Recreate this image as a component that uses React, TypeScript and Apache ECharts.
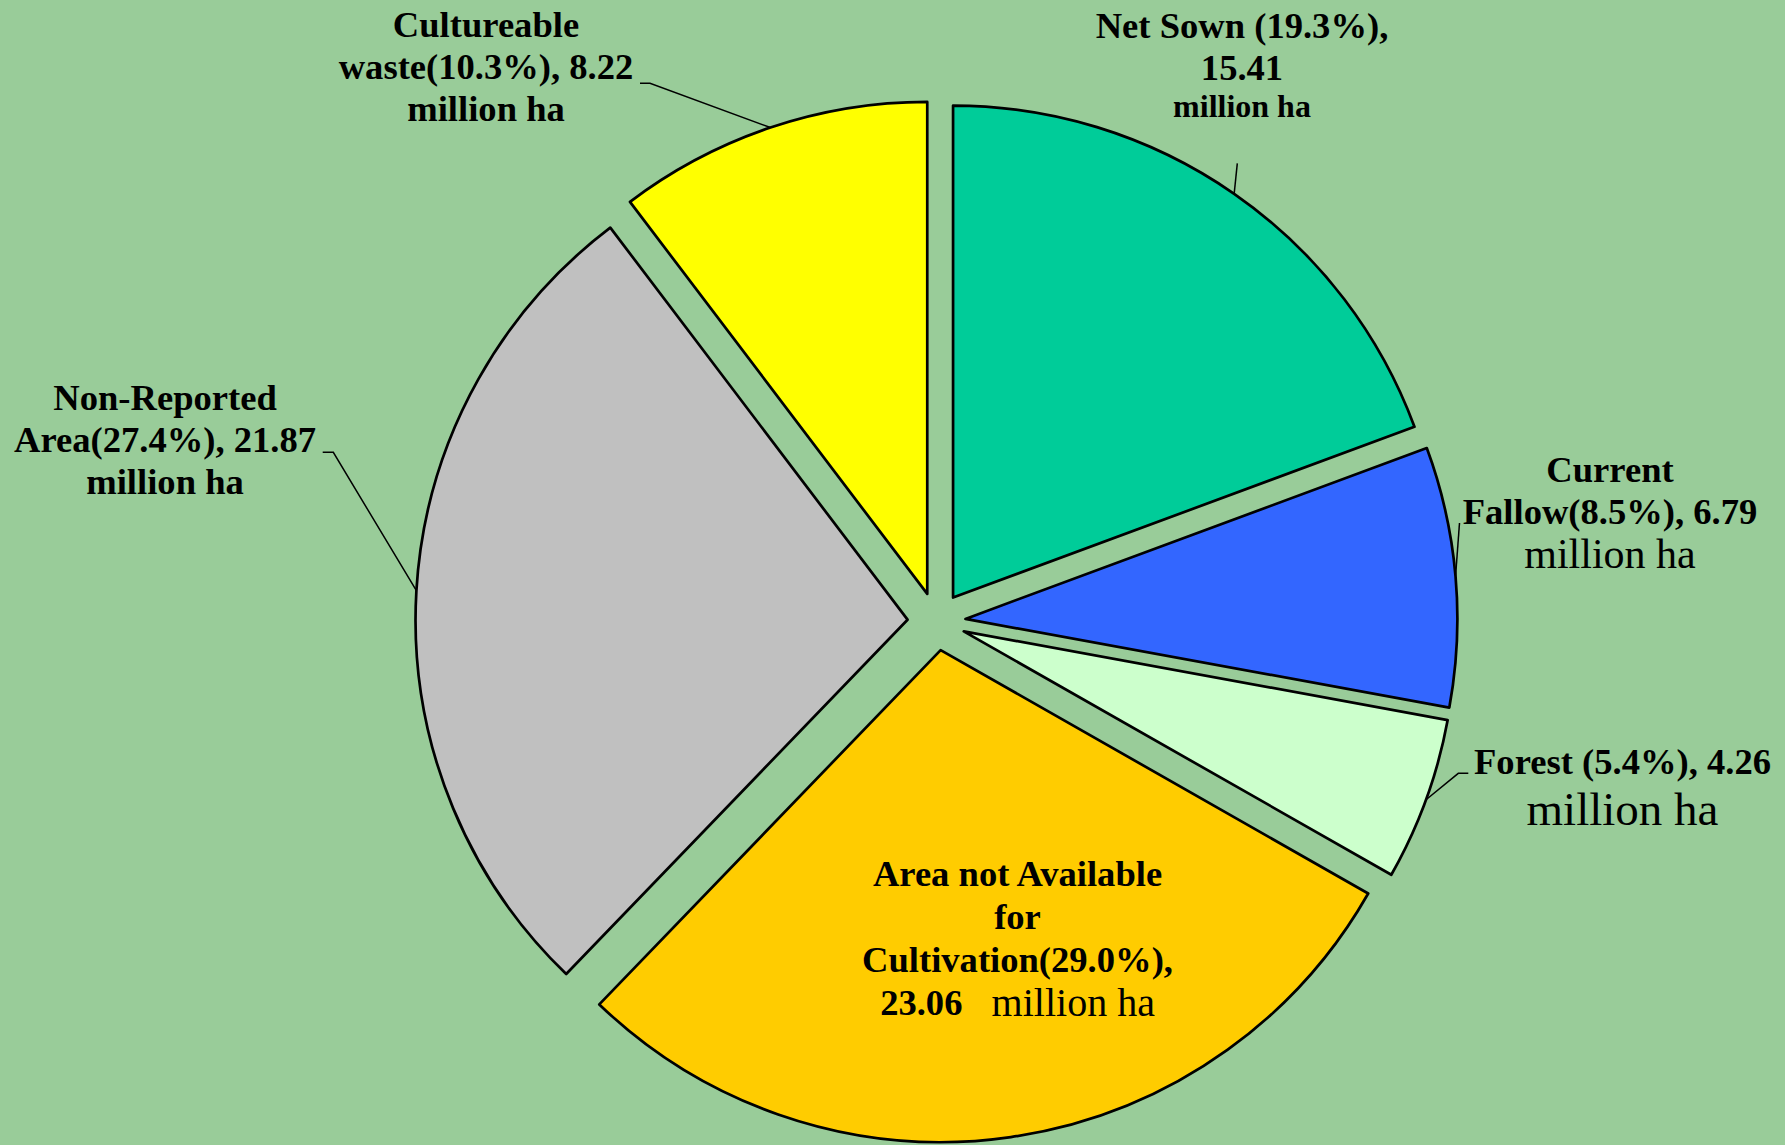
import React, { useEffect, useRef } from "react";
import * as echarts from "echarts";

// ---- data ----
const categories = [
  "Net Sown",
  "Current Fallow",
  "Forest",
  "Area not Available for Cultivation",
  "Non-Reported Area",
  "Cultureable waste",
];
const areasMha = [15.41, 6.79, 4.26, 23.06, 21.87, 8.22];
const sharesPct = ["19.3", "8.5", "5.4", "29.0", "27.4", "10.3"];
const colors = ["#00CC99", "#3366FF", "#CCFFCC", "#FFCC00", "#C0C0C0", "#FFFF00"];

// ---- layout (pixels) ----
const W = 1785;
const H = 1145;
const CX = 936.5;
const CY = 621.4;
const R = 492;
const OFFSET = 29;

// label anchor (block centre) for each slice
const labelPos: [number, number][] = [
  [1242, 63.5],
  [1610, 512.3],
  [1622.5, 788.4],
  [1017.5, 938],
  [165, 439],
  [486, 66],
];
// extra leader-line points (after the arc point)
const leaderTail: [number, number][][] = [
  [[1237.3, 163.3]],
  [[1459.5, 523]],
  [[1458.3, 773.3], [1468.3, 773.3]],
  [],
  [[333.3, 452.3], [322.7, 452.3]],
  [[650, 83.3], [640, 83.3]],
];

function labelText(i: number): string {
  const s = sharesPct[i];
  const a = areasMha[i].toFixed(2);
  switch (i) {
    case 0:
      return `{b|Net Sown (${s}%),}\n{b|${a}}\n{s|million ha}`;
    case 1:
      return `{b|Current}\n{b|Fallow(${s}%), ${a}}\n{r1|million ha}`;
    case 2:
      return `{b|Forest (${s}%), ${a}}\n{r2|million ha}`;
    case 3:
      return `{c|Area not Available}\n{c|for}\n{c|Cultivation(${s}%),}\n{c|${a} }{r3|  million ha}`;
    case 4:
      return `{b|Non-Reported}\n{b|Area(${s}%), ${a}}\n{b|million ha}`;
    default:
      return `{b|Cultureable}\n{b|waste(${s}%), ${a}}\n{b|million ha}`;
  }
}

const FONT = "'Liberation Serif', 'Times New Roman', serif";

export default function App() {
  const ref = useRef<HTMLDivElement>(null);
  useEffect(() => {
    document.body.style.margin = "0";
    if (!ref.current) return;
    const chart = echarts.init(ref.current, undefined, { renderer: "svg" });
    const total = areasMha.reduce((p, c) => p + c, 0);
    const mids: number[] = [];
    let acc = 0;
    areasMha.forEach((v) => {
      const span = (v / total) * 360;
      mids.push(90 - acc - span / 2);
      acc += span;
    });
    const arcPoint = (i: number): [number, number] => {
      const rad = (mids[i] * Math.PI) / 180;
      const d = R + OFFSET;
      return [CX + d * Math.cos(rad), CY - d * Math.sin(rad)];
    };

    const rich = {
      b: { fontFamily: FONT, fontWeight: "bold", fontSize: 36.6, lineHeight: 42, color: "#000" },
      c: { fontFamily: FONT, fontWeight: "bold", fontSize: 36.6, lineHeight: 43, color: "#000" },
      s: { fontFamily: FONT, fontWeight: "bold", fontSize: 32, lineHeight: 35, color: "#000" },
      r1: { fontFamily: FONT, fontWeight: "normal", fontSize: 42, lineHeight: 44, color: "#000" },
      r2: { fontFamily: FONT, fontWeight: "normal", fontSize: 47, lineHeight: 54, color: "#000" },
      r3: { fontFamily: FONT, fontWeight: "normal", fontSize: 40, lineHeight: 43, color: "#000" },
    };

    chart.setOption({
      animation: false,
      backgroundColor: "#99CC99",
      series: [
        {
          // exploded slices
          type: "pie",
          center: [CX, CY],
          radius: [0, R],
          startAngle: 90,
          clockwise: true,
          selectedMode: "multiple",
          selectedOffset: OFFSET,
          emphasis: { disabled: true },
          silent: true,
          itemStyle: { borderColor: "#000", borderWidth: 2.7 },
          select: { itemStyle: { borderColor: "#000", borderWidth: 2.7 } },
          label: { show: false },
          labelLine: { show: false },
          data: categories.map((name, i) => ({
            name,
            value: areasMha[i],
            selected: true,
            itemStyle: { color: colors[i] },
          })),
        },
        {
          // labels only
          type: "pie",
          center: [CX, CY],
          radius: [0, R],
          startAngle: 90,
          clockwise: true,
          selectedMode: false,
          silent: true,
          avoidLabelOverlap: false,
          emphasis: { disabled: true },
          itemStyle: { color: "rgba(0,0,0,0)", borderWidth: 0 },
          label: {
            show: true,
            position: "outside",
            formatter: (p: any) => labelText(p.dataIndex),
            rich,
            align: "center",
          },
          labelLine: { show: true, lineStyle: { color: "#000", width: 1.5 } },
          labelLayout: (p: any) => {
            const i = p.dataIndex;
            const pts = [arcPoint(i), ...leaderTail[i]];
            return {
              x: labelPos[i][0],
              y: labelPos[i][1],
              align: "center",
              verticalAlign: "middle",
              labelLinePoints: pts.length > 1 ? pts : undefined,
            };
          },
          data: categories.map((name, i) => ({
            name,
            value: areasMha[i],
            labelLine: i === 3 ? { show: false } : undefined,
          })),
        },
      ],
    });
    return () => chart.dispose();
  }, []);
  return <div ref={ref} style={{ width: W, height: H }} />;
}
